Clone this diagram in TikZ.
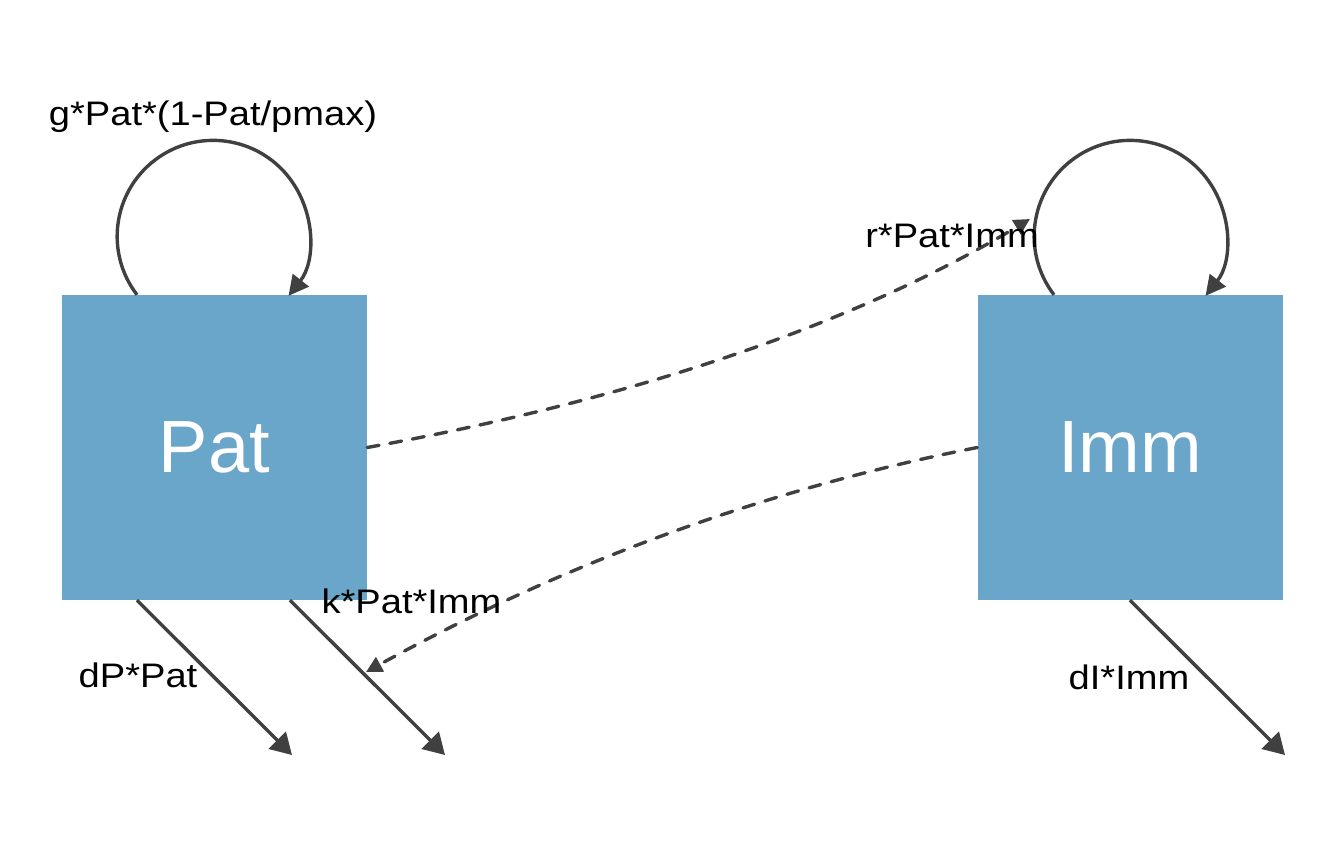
\documentclass[tikz,border=0pt]{standalone}
\usepackage{fontspec}
\setmainfont{Liberation Sans}
\newfontfamily\labelfont[FakeStretch=1.12]{Liberation Sans}
\usetikzlibrary{arrows.meta}
\definecolor{boxblue}{HTML}{6AA5CA}
\definecolor{edgegray}{HTML}{404040}
\begin{document}
\begin{tikzpicture}[x=1pt,y=1pt,
  compartment/.style={fill=boxblue, draw=none, minimum width=305pt, minimum height=305pt,
    inner sep=0pt, text=white, font=\fontsize{74}{80}\selectfont},
  ratelabel/.style={inner sep=0pt, anchor=base, text=black,
    font=\labelfont\fontsize{34}{39}\selectfont},
  flow/.style={draw=edgegray, line width=3.4pt, -{Triangle[length=21pt,width=24pt]}},
  loopflow/.style={draw=edgegray, line width=3.4pt, -{Triangle[length=20pt,width=20pt]}},
  interaction/.style={draw=edgegray, line width=3.4pt, line cap=round,
    dash pattern=on 12pt off 11pt, -{Triangle[length=16pt,width=16pt]}},
]
\useasboundingbox (0,0) rectangle (1344,-865);

% compartments
\node[compartment] (pat) at (214.5,-447.5) {Pat};
\node[compartment] (imm) at (1130,-447.5) {Imm};

% outflow end points
\coordinate (patout1) at (292,-755);
\coordinate (patout2) at (445,-755);
\coordinate (immout) at (1285,-755);

% interaction arrow ends
\coordinate (rtip) at (1030,-219);
\coordinate (ktip) at (366,-672);

% growth self-loops
\draw[loopflow] ([xshift=-77.5pt]pat.north) arc[start angle=217.5, end angle=-38.3, radius=96];
\draw[loopflow] ([xshift=-76pt]imm.north) arc[start angle=217.5, end angle=-38.3, radius=96];

% decay flows
\draw[flow] ([xshift=-77.5pt]pat.south) -- (patout1);
\draw[flow] ([xshift=75.5pt]pat.south) -- (patout2);
\draw[flow] (imm.south) -- (immout);

% interactions
\draw[interaction] (pat.east) .. controls (636,-399) and (857,-323) .. (rtip);
\draw[interaction] (imm.west) .. controls (765,-489) and (562,-564) .. (ktip);

% rate labels
\node[ratelabel] (glab) at (213,-125) {g*Pat*(1-Pat/pmax)};
\node[ratelabel] (rlab) at (952,-247) {r*Pat*Imm};
\node[ratelabel] (klab) at (411.5,-613) {k*Pat*Imm};
\node[ratelabel] (dplab) at (138,-687) {dP*Pat};
\node[ratelabel] (dilab) at (1129,-689) {dI*Imm};
\end{tikzpicture}
\end{document}
